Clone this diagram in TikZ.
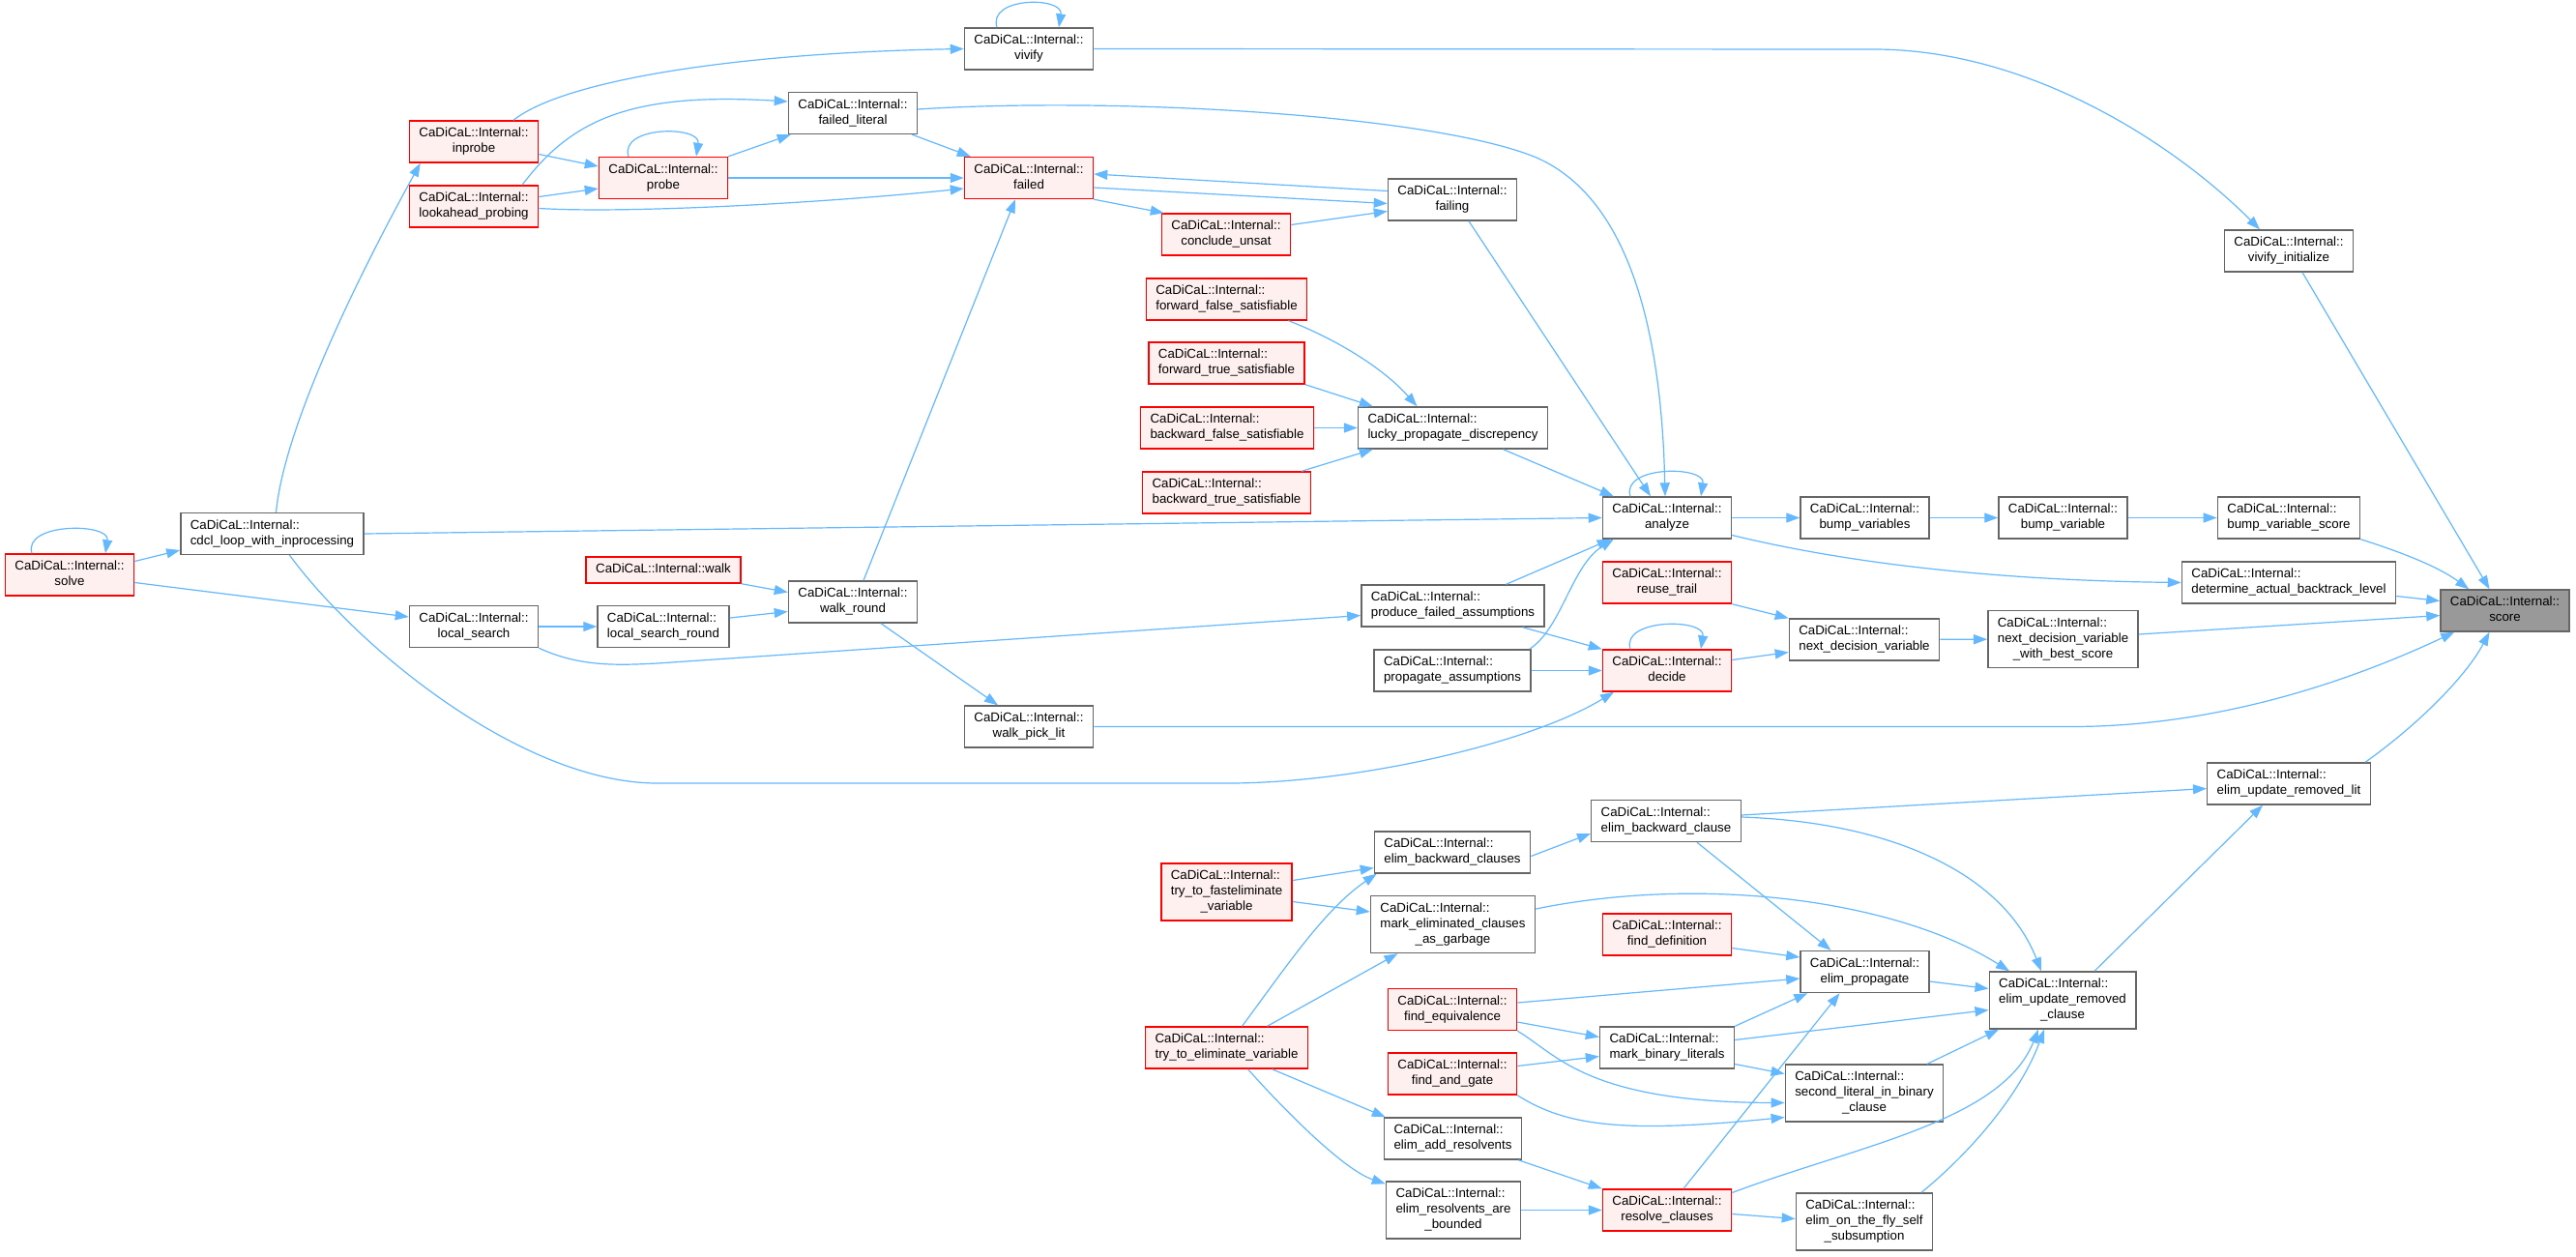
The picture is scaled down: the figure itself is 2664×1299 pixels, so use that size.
\documentclass[tikz,border=0pt]{standalone}
\usepackage{fontspec}
\setmainfont{Liberation Sans}
\usetikzlibrary{arrows.meta}

\definecolor{linkblue}{HTML}{63B8FF}
\definecolor{boxgray}{HTML}{666666}
\definecolor{boxred}{HTML}{FF0000}
\definecolor{boxpink}{HTML}{FFF0F0}
\definecolor{selgray}{HTML}{999999}

\newcommand{\nodefont}{\fontsize{13.3}{16}\selectfont}
\newcommand{\fnname}[1]{\begin{tabular}{@{}l@{}}CaDiCaL::Internal::\\\multicolumn{1}{@{}c@{}}{#1}\end{tabular}}
\newcommand{\fnnamelong}[2]{\begin{tabular}{@{}l@{}}CaDiCaL::Internal::\\#1\\\multicolumn{1}{@{}c@{}}{#2}\end{tabular}}
\newcommand{\fnsingle}[1]{\begin{tabular}{@{}c@{}}#1\end{tabular}}

\tikzset{
  fnbox/.style={draw=boxgray, fill=white, line width=1.4pt, inner xsep=10pt, inner ysep=5.5pt, font=\nodefont},
  fnred/.style={fnbox, draw=boxred, fill=boxpink},
  fnsel/.style={fnbox, fill=selgray},
  calls/.style={draw=linkblue, line width=1.2pt, -{Triangle[length=14pt,width=10pt]}}
}

\begin{document}
\begin{tikzpicture}[x=1pt,y=1pt]

    \useasboundingbox (0,0) rectangle (2664,-1299);
    \fill[white] (0,0) rectangle (2664,-1299);

    \node[fnred] (solve) at (72,-594.5) {\fnname{solve}};
    \node[fnbox] (cdcl) at (281.5,-552) {\fnname{cdcl\_loop\_with\_inprocessing}};
    \node[fnred] (inprobe) at (490,-146.5) {\fnname{inprobe}};
    \node[fnred] (lookahead) at (490,-213.5) {\fnname{lookahead\_probing}};
    \node[fnbox] (localsearch) at (490,-648) {\fnname{local\_search}};
    \node[fnred] (probe) at (686,-184) {\fnname{probe}};
    \node[fnred] (walk) at (686,-589.5) {\fnsingle{CaDiCaL::Internal::walk}};
    \node[fnbox] (lsround) at (686,-648) {\fnname{local\_search\_round}};
    \node[fnbox] (failedlit) at (882,-117) {\fnname{failed\_literal}};
    \node[fnbox] (walkround) at (882,-622.5) {\fnname{walk\_round}};
    \node[fnbox] (vivify) at (1064,-50.5) {\fnname{vivify}};
    \node[fnred] (failed) at (1064,-184) {\fnname{failed}};
    \node[fnbox] (walkpick) at (1064,-751.5) {\fnname{walk\_pick\_lit}};
    \node[fnred] (concludeunsat) at (1268,-242.5) {\fnname{conclude\_unsat}};
    \node[fnred] (fwdfalse) at (1268.5,-309.5) {\fnname{forward\_false\_satisfiable}};
    \node[fnred] (fwdtrue) at (1268.5,-375.5) {\fnname{forward\_true\_satisfiable}};
    \node[fnred] (bwdfalse) at (1269,-442.5) {\fnname{backward\_false\_satisfiable}};
    \node[fnred] (bwdtrue) at (1268.5,-509.5) {\fnname{backward\_true\_satisfiable}};
    \node[fnred] (tryfast) at (1268.5,-922.5) {\fnnamelong{try\_to\_fasteliminate}{\_variable}};
    \node[fnred] (tryelim) at (1268.5,-1083.5) {\fnname{try\_to\_eliminate\_variable}};
    \node[fnbox] (failing) at (1502,-206.5) {\fnname{failing}};
    \node[fnbox] (lucky) at (1502.5,-442.5) {\fnname{lucky\_propagate\_discrepency}};
    \node[fnbox] (producefailed) at (1502.5,-626.5) {\fnname{produce\_failed\_assumptions}};
    \node[fnbox] (propassump) at (1502,-693.5) {\fnname{propagate\_assumptions}};
    \node[fnbox] (elimbwds) at (1502,-881.5) {\fnname{elim\_backward\_clauses}};
    \node[fnbox] (markelim) at (1502.5,-956) {\fnnamelong{mark\_eliminated\_clauses}{\_as\_garbage}};
    \node[fnred] (findeq) at (1502,-1044) {\fnname{find\_equivalence}};
    \node[fnred] (findand) at (1502,-1110.5) {\fnname{find\_and\_gate}};
    \node[fnbox] (elimaddres) at (1502.5,-1177.5) {\fnname{elim\_add\_resolvents}};
    \node[fnbox] (elimbounded) at (1503,-1251.5) {\fnnamelong{elim\_resolvents\_are}{\_bounded}};
    \node[fnbox] (analyze) at (1724,-535.5) {\fnname{analyze}};
    \node[fnred] (reusetrail) at (1724,-602.5) {\fnname{reuse\_trail}};
    \node[fnred] (decide) at (1724,-693.5) {\fnname{decide}};
    \node[fnbox] (elimbwd) at (1723,-849) {\fnname{elim\_backward\_clause}};
    \node[fnred] (finddef) at (1724,-966.5) {\fnname{find\_definition}};
    \node[fnbox] (markbin) at (1724,-1083.5) {\fnname{mark\_binary\_literals}};
    \node[fnred] (resolve) at (1724,-1251.5) {\fnname{resolve\_clauses}};
    \node[fnbox] (bumpvars) at (1928.5,-535.5) {\fnname{bump\_variables}};
    \node[fnbox] (nextdec) at (1928,-661.5) {\fnname{next\_decision\_variable}};
    \node[fnbox] (elimprop) at (1928.5,-1005) {\fnname{elim\_propagate}};
    \node[fnbox] (secondlit) at (1928,-1130.5) {\fnnamelong{second\_literal\_in\_binary}{\_clause}};
    \node[fnbox] (onthefly) at (1928,-1263.5) {\fnnamelong{elim\_on\_the\_fly\_self}{\_subsumption}};
    \node[fnbox] (bumpvar) at (2133.5,-535.5) {\fnname{bump\_variable}};
    \node[fnbox] (nextbest) at (2133.5,-661) {\fnnamelong{next\_decision\_variable}{\_with\_best\_score}};
    \node[fnbox] (elimclause) at (2133,-1034.5) {\fnnamelong{elim\_update\_removed}{\_clause}};
    \node[fnbox] (vivifyinit) at (2367,-259.5) {\fnname{vivify\_initialize}};
    \node[fnbox] (bumpscore) at (2367,-535.5) {\fnname{bump\_variable\_score}};
    \node[fnbox] (determine) at (2367,-602.5) {\fnname{determine\_actual\_backtrack\_level}};
    \node[fnbox] (elimlit) at (2367,-810.5) {\fnname{elim\_update\_removed\_lit}};
    \node[fnsel] (score) at (2590.5,-631.5) {\fnname{score}};

    \draw[calls] ([xshift=-39pt]solve.north) .. controls +(-10,32) and +(5,32) .. ([xshift=37pt]solve.north);
    \draw[calls] ([yshift=14pt]solve.east) -- ([yshift=-17pt]cdcl.west);
    \draw[calls] ([yshift=-8pt]solve.east) -- ([yshift=10pt]localsearch.west);
    \draw[calls] ([xshift=4pt]cdcl.north) .. controls (295,-430) and (390,-250) .. ([xshift=12pt]inprobe.south west);
    \draw[calls] (cdcl.east) -- (analyze.west);
    \draw[calls] ([xshift=18pt]cdcl.south) .. controls (370,-670) and (540,-810) .. (680,-810) -- (1270,-810)
       .. controls (1400,-810) and (1580,-770) .. ([xshift=-55pt]decide.south);
    \draw[calls] ([yshift=-13pt]inprobe.east) -- ([yshift=12pt]probe.west);
    \draw[calls] ([xshift=41pt]inprobe.north) .. controls (580,-85) and (750,-55) .. (vivify.west);
    \draw[calls] ([yshift=10pt]lookahead.east) -- ([yshift=-11pt]probe.west);
    \draw[calls] ([xshift=50pt]lookahead.north) .. controls (590,-125) and (650,-95) .. ([yshift=12pt]failedlit.west);
    \draw[calls] ([yshift=-2pt]lookahead.east) .. controls (650,-221) and (850,-210) .. ([yshift=-11pt]failed.west);
    \draw[calls] ([xshift=-36pt]probe.north) .. controls +(-10,32) and +(5,32) .. ([xshift=34pt]probe.north);
    \draw[calls] (probe.north east) -- ([xshift=3pt]failedlit.south west);
    \draw[calls] (probe) -- (failed);
    \draw[calls] ([xshift=-6pt]failedlit.south east) -- ([xshift=7pt]failed.north west);
    \draw[calls] ([yshift=4pt]failedlit.east) .. controls (1150,-100) and (1480,-118) .. (1589,-163)
       .. controls (1680,-203) and (1718,-330) .. ([xshift=-2pt]analyze.north);
    \draw[calls] ([xshift=-33pt]vivify.north) .. controls +(-10,32) and +(5,32) .. ([xshift=31pt]vivify.north);
    \draw[calls] (vivify.east) -- (1938,-51) .. controls (2100,-51) and (2250,-150) .. ([xshift=-30pt]vivifyinit.north);
    \draw[calls] ([yshift=-10pt]failed.east) -- ([yshift=-4pt]failing.west);
    \draw[calls] (failed.south east) -- ([xshift=3pt]concludeunsat.north west);
    \draw[calls] ([yshift=9pt]failing.west) -- ([yshift=4pt]failed.east);
    \draw[calls] ([yshift=10pt]concludeunsat.east) -- ([yshift=-12pt]failing.west);
    \draw[calls] ([xshift=11pt]walkround.north) -- ([xshift=-14pt]failed.south);
    \draw[calls] ([xshift=17pt]failing.south) -- ([xshift=-17pt]analyze.north);
    \draw[calls] ([xshift=64pt]fwdfalse.south) .. controls (1380,-350) and (1430,-380) .. ([xshift=-37pt]lucky.north);
    \draw[calls] (fwdtrue.south east) -- ([xshift=16pt]lucky.north west);
    \draw[calls] (bwdfalse) -- (lucky);
    \draw[calls] ([xshift=-10pt]bwdtrue.north east) -- ([xshift=16pt]lucky.south west);
    \draw[calls] ([xshift=52pt]lucky.south) -- ([xshift=12pt]analyze.north west);
    \draw[calls] ([xshift=-38pt]analyze.north) .. controls +(-10,32) and +(5,32) .. ([xshift=35pt]analyze.north);
    \draw[calls] (analyze) -- (bumpvars);
    \draw[calls] (bumpvars) -- (bumpvar);
    \draw[calls] (bumpvar) -- (bumpscore);
    \draw[calls] (bumpscore.south east) .. controls (2480,-570) and (2520,-585) .. ([xshift=30pt]score.north west);
    \draw[calls] ([xshift=14pt]vivifyinit.south) -- ([xshift=-16pt]score.north);
    \draw[calls] ([yshift=-18pt]analyze.east) .. controls (1900,-580) and (2050,-600) .. (determine.west);
    \draw[calls] ([yshift=-14pt]determine.east) -- ([yshift=10pt]score.west);
    \draw[calls] ([xshift=55pt]producefailed.north) -- ([xshift=9pt]analyze.south west);
    \draw[calls] ([xshift=-2pt]propassump.north east) .. controls (1615,-650) and (1625,-585) .. ([xshift=12pt]analyze.south west);
    \draw[calls] ([xshift=72pt]producefailed.south) -- (decide.north west);
    \draw[calls] (propassump) -- (decide);
    \draw[calls] ([xshift=-38pt]decide.north) .. controls +(-10,32) and +(5,32) .. ([xshift=35pt]decide.north);
    \draw[calls] (reusetrail.south east) -- (nextdec.north west);
    \draw[calls] ([yshift=11pt]decide.east) -- ([yshift=-13pt]nextdec.west);
    \draw[calls] (nextdec) -- (nextbest);
    \draw[calls] ([yshift=5pt]nextbest.east) -- ([yshift=-5pt]score.west);
    \draw[calls] (walkpick.east) -- (2142,-751.5) .. controls (2300,-751.5) and (2440,-700) .. ([xshift=15pt]score.south west);
    \draw[calls] ([xshift=-6pt]elimlit.north east) .. controls (2500,-750) and (2550,-700) .. ([xshift=-16pt]score.south);
    \draw[calls] (localsearch) -- (lsround);
    \draw[calls] ([yshift=9pt]lsround.east) -- ([yshift=-10pt]walkround.west);
    \draw[calls] (walk.south east) -- ([yshift=10pt]walkround.west);
    \draw[calls] ([xshift=29pt]walkround.south) -- ([xshift=-32pt]walkpick.north);
    \draw[calls] (localsearch.south east) .. controls (600,-690) and (640,-688) .. (680,-686) -- ([yshift=-10pt]producefailed.west);

    \draw[calls] ([yshift=12pt]tryfast.east) -- ([yshift=-16pt]elimbwds.west);
    \draw[calls] ([yshift=-10pt]tryfast.east) -- ([yshift=13pt]markelim.west);
    \draw[calls] ([xshift=16pt]tryelim.north) .. controls (1330,-1000) and (1370,-940) .. ([xshift=3pt]elimbwds.south west);
    \draw[calls] ([xshift=42pt]tryelim.north) -- ([xshift=-57pt]markelim.south);
    \draw[calls] ([xshift=47pt]tryelim.south) -- ([xshift=2pt]elimaddres.north west);
    \draw[calls] ([xshift=22pt]tryelim.south) .. controls (1330,-1150) and (1390,-1210) .. ([yshift=-3pt]elimbounded.north west);
    \draw[calls] ([yshift=-4pt]elimbwds.east) -- ([yshift=-13pt]elimbwd.west);
    \draw[calls] ([yshift=6pt]elimbwd.east) -- ([yshift=-5pt]elimlit.west);
    \draw[calls] ([yshift=4pt]elimbwd.east) .. controls (1950,-850) and (2070,-900) .. ([xshift=-22pt]elimclause.north);
    \draw[calls] ([xshift=32pt]elimbwd.south) -- ([xshift=-35pt]elimprop.north);
    \draw[calls] ([yshift=16pt]markelim.east) .. controls (1760,-905) and (1960,-930) .. ([xshift=-55pt]elimclause.north);
    \draw[calls] ([yshift=-14pt]finddef.east) -- ([yshift=15pt]elimprop.west);
    \draw[calls] ([yshift=7pt]findeq.east) -- ([yshift=-7pt]elimprop.west);
    \draw[calls] ([yshift=-13pt]findeq.east) -- ([yshift=11pt]markbin.west);
    \draw[calls] (findeq.south east) .. controls (1610,-1090) and (1640,-1140) .. ([yshift=-10pt]secondlit.west);
    \draw[calls] ([yshift=8pt]findand.east) -- ([yshift=-9pt]markbin.west);
    \draw[calls] (findand.south east) .. controls (1620,-1165) and (1680,-1172) .. ([yshift=-25pt]secondlit.west);
    \draw[calls] (markbin.north east) -- ([xshift=8pt]elimprop.south west);
    \draw[calls] ([yshift=8pt]markbin.east) -- ([yshift=-10pt]elimclause.west);
    \draw[calls] ([yshift=-17pt]markbin.east) -- ([yshift=20pt]secondlit.west);
    \draw[calls] ([yshift=-10pt]elimprop.east) -- ([yshift=12pt]elimclause.west);
    \draw[calls] ([xshift=65pt]secondlit.north) -- ([xshift=-66pt]elimclause.south);
    \draw[calls] ([xshift=17pt]resolve.north) -- ([xshift=-26pt]elimprop.south);
    \draw[calls] ([yshift=18pt]resolve.east) .. controls (1920,-1185) and (2070,-1160) .. ([xshift=-25pt]elimclause.south);
    \draw[calls] ([yshift=-4pt]resolve.east) -- ([yshift=3pt]onthefly.west);
    \draw[calls] ([xshift=59pt]onthefly.north) .. controls (2040,-1190) and (2090,-1130) .. ([xshift=-19pt]elimclause.south);
    \draw[calls] ([xshift=-4pt]elimaddres.south east) -- (resolve.north west);
    \draw[calls] (elimbounded) -- (resolve);
    \draw[calls] ([xshift=33pt]elimclause.north) -- ([xshift=-27pt]elimlit.south);
\end{tikzpicture}
\end{document}
